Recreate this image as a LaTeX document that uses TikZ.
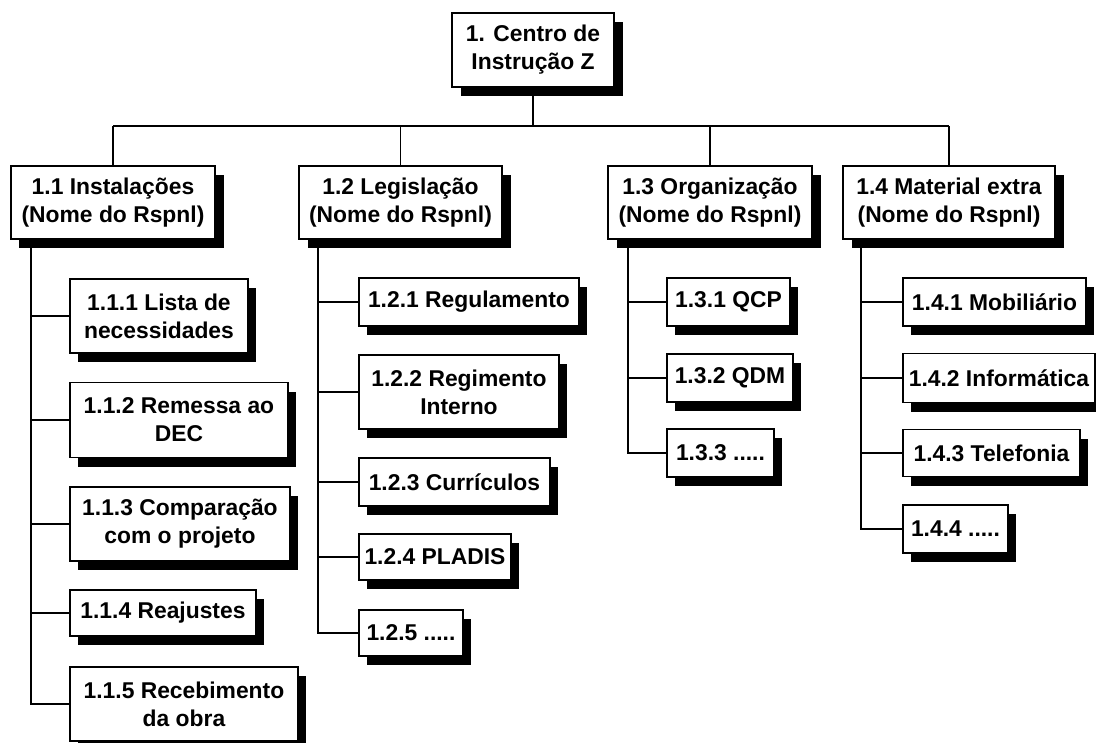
\documentclass[tikz,border=0pt]{standalone}
\usepackage{fontspec}
\setmainfont{Liberation Sans}
\usetikzlibrary{shadows}
\tikzstyle{wbsbox} = [rectangle, draw=black, fill=white, line width=1.1pt, align=center, inner sep=2pt, font=\fontsize{13}{15.9}\selectfont\bfseries, drop shadow={shadow xshift=0.17cm, shadow yshift=-0.18cm, opacity=1, fill=black}]
\tikzstyle{wbsline} = [line width=1.1pt]

\begin{document}
\begin{tikzpicture}
    \useasboundingbox (0,0) rectangle (21.92,-14.84);

    % Root
    \node[wbsbox, minimum width=3.24cm, minimum height=1.48cm] (c) at (10.66,-1.00) {1. Centro de\\Instrução Z};

    % Level 2
    \node[wbsbox, minimum width=4.08cm, minimum height=1.46cm] (a1) at (2.26,-4.05) {1.1 Instalações\\(Nome do Rspnl)};
    \node[wbsbox, minimum width=4.06cm, minimum height=1.46cm] (a2) at (8.01,-4.05) {1.2 Legislação\\(Nome do Rspnl)};
    \node[wbsbox, minimum width=4.08cm, minimum height=1.46cm] (a3) at (14.20,-4.05) {1.3 Organização\\(Nome do Rspnl)};
    \node[wbsbox, minimum width=4.24cm, minimum height=1.46cm] (a4) at (18.98,-4.05) {1.4 Material extra\\(Nome do Rspnl)};

    % 1.1
    \node[wbsbox, anchor=west, minimum width=3.56cm, minimum height=1.48cm] (a11) at (1.38,-6.32) {1.1.1 Lista de\\necessidades};
    \node[wbsbox, anchor=west, minimum width=4.36cm, minimum height=1.50cm] (a12) at (1.38,-8.40) {1.1.2 Remessa ao\\DEC};
    \node[wbsbox, anchor=west, minimum width=4.40cm, minimum height=1.48cm] (a13) at (1.38,-10.48) {1.1.3 Comparação\\com o projeto};
    \node[wbsbox, anchor=west, minimum width=3.72cm, minimum height=0.92cm] (a14) at (1.38,-12.26) {1.1.4 Reajustes};
    \node[wbsbox, anchor=west, minimum width=4.56cm, minimum height=1.48cm] (a15) at (1.38,-14.08) {1.1.5 Recebimento\\da obra};

    % 1.2
    \node[wbsbox, anchor=west, minimum width=4.40cm, minimum height=0.96cm] (a21) at (7.16,-6.04) {1.2.1 Regulamento};
    \node[wbsbox, anchor=west, minimum width=4.00cm, minimum height=1.48cm] (a22) at (7.16,-7.84) {1.2.2 Regimento\\Interno};
    \node[wbsbox, anchor=west, minimum width=3.82cm, minimum height=0.96cm] (a23) at (7.16,-9.64) {1.2.3 Currículos};
    \node[wbsbox, anchor=west, minimum width=3.04cm, minimum height=0.92cm] (a24) at (7.16,-11.14) {1.2.4 PLADIS};
    \node[wbsbox, anchor=west, minimum width=2.08cm, minimum height=0.92cm] (a25) at (7.16,-12.66) {1.2.5 .....};

    % 1.3
    \node[wbsbox, anchor=west, minimum width=2.46cm, minimum height=0.96cm] (a31) at (13.32,-6.04) {1.3.1 QCP};
    \node[wbsbox, anchor=west, minimum width=2.52cm, minimum height=0.96cm] (a32) at (13.32,-7.56) {1.3.2 QDM};
    \node[wbsbox, anchor=west, minimum width=2.14cm, minimum height=0.96cm] (a33) at (13.32,-9.06) {1.3.3 .....};

    % 1.4
    \node[wbsbox, anchor=west, minimum width=3.66cm, minimum height=0.96cm] (a41) at (18.04,-6.04) {1.4.1 Mobiliário};
    \node[wbsbox, anchor=west, minimum width=3.84cm, minimum height=0.98cm] (a42) at (18.04,-7.56) {1.4.2 Informática};
    \node[wbsbox, anchor=west, minimum width=3.54cm, minimum height=0.94cm] (a43) at (18.04,-9.06) {1.4.3 Telefonia};
    \node[wbsbox, anchor=west, minimum width=2.10cm, minimum height=0.96cm] (a44) at (18.04,-10.58) {1.4.4 .....};

    % Connectors
    \coordinate (bar) at (0,-2.52);
    \draw[wbsline] (c.south) -- (c.south |- bar);
    \draw[wbsline] (a1.north |- bar) -- (a4.north |- bar);
    \foreach \n in {a1,a2,a3,a4}
        \draw[wbsline] (\n.north |- bar) -- (\n.north);

    \coordinate (s1) at ([xshift=0.42cm]a1.south west);
    \coordinate (s2) at ([xshift=0.40cm]a2.south west);
    \coordinate (s3) at ([xshift=0.42cm]a3.south west);
    \coordinate (s4) at ([xshift=0.38cm]a4.south west);
    \foreach \s/\k in {s1/a15, s2/a25, s3/a33, s4/a44}
        \draw[wbsline] (\s) |- (\k.west);
    \foreach \s/\k in {s1/a11, s1/a12, s1/a13, s1/a14, s2/a21, s2/a22, s2/a23, s2/a24, s3/a31, s3/a32, s4/a41, s4/a42, s4/a43}
        \draw[wbsline] (\s |- \k.west) -- (\k.west);
\end{tikzpicture}
\end{document}
